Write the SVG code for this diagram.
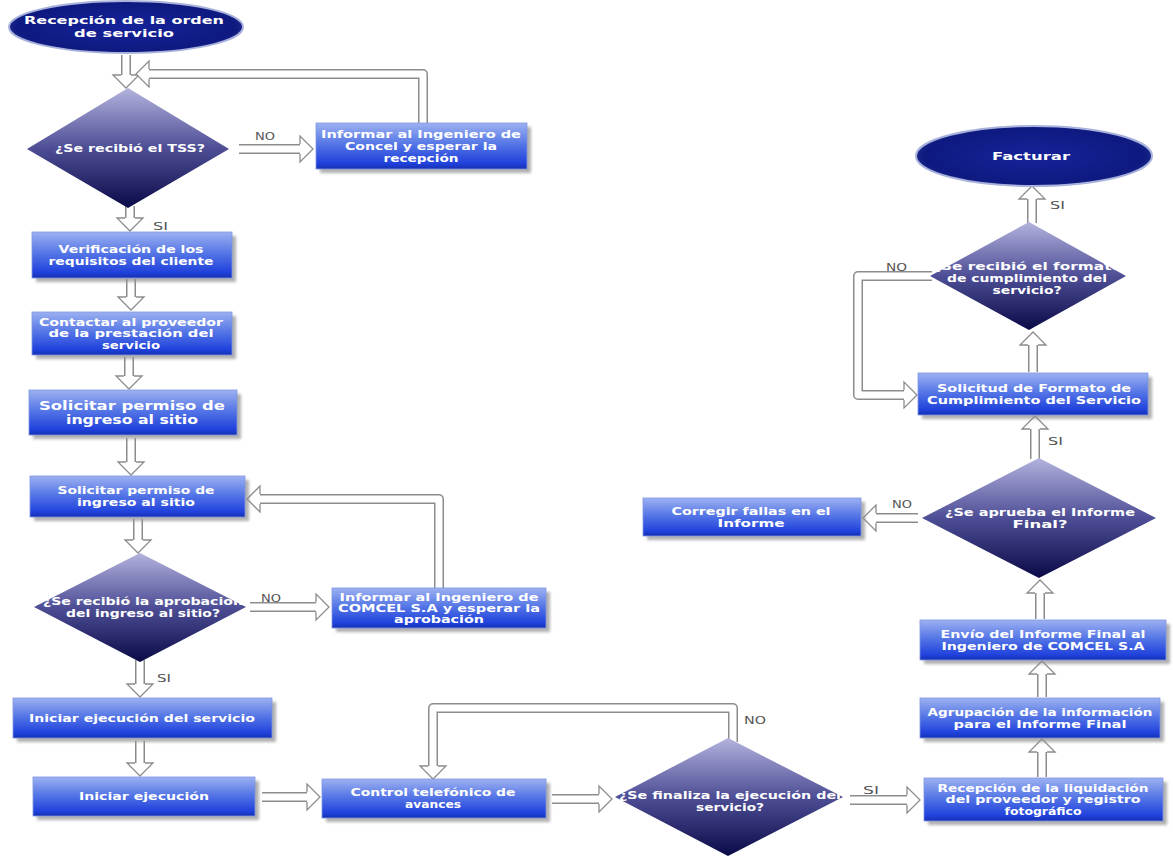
<svg xmlns="http://www.w3.org/2000/svg" xmlns:xlink="http://www.w3.org/1999/xlink" width="1173" height="856" viewBox="0 0 1173 856">
<style>
.t{font-family:"DejaVu Sans",Verdana,sans-serif;font-weight:bold;font-size:10px;fill:#ffffff;text-anchor:middle}
.tb{font-size:12px}
.l{font-family:"DejaVu Sans",Verdana,sans-serif;font-size:10px;fill:#555555}
.so{fill:none;stroke:#8c8c8c;stroke-width:10;stroke-linejoin:round}
.si{fill:none;stroke:#ffffff;stroke-width:7;stroke-linejoin:round}
.hd{fill:#ffffff;stroke:#8c8c8c;stroke-width:1.3;stroke-linejoin:miter}
.box{fill:url(#gBox);stroke:#8096e0;stroke-width:0.8}
.sh{fill:#8f8f8f;opacity:0.7;filter:url(#blur)}
.dia{fill:url(#gDia)}
.ov{fill:url(#gOv);stroke:#a9b2dc;stroke-width:2}
</style>
<defs>
<linearGradient id="gBox" x1="0" y1="0" x2="0" y2="1">
<stop offset="0" stop-color="#9db1f1"/>
<stop offset="0.45" stop-color="#5677e6"/>
<stop offset="0.88" stop-color="#1f41dc"/>
<stop offset="1" stop-color="#1630b0"/>
</linearGradient>
<linearGradient id="gDia" x1="0" y1="0" x2="0" y2="1">
<stop offset="0" stop-color="#b3b3de"/>
<stop offset="0.5" stop-color="#4e4e96"/>
<stop offset="1" stop-color="#0a0a48"/>
</linearGradient>
<radialGradient id="gOv" cx="0.5" cy="0.5" r="0.55">
<stop offset="0" stop-color="#16239a"/>
<stop offset="0.85" stop-color="#0e1a80"/>
<stop offset="1" stop-color="#2a3892"/>
</radialGradient>
<filter id="blur" x="-10%" y="-20%" width="120%" height="140%"><feGaussianBlur stdDeviation="1.5"/></filter>
<polyline id="hd" class="hd" points="-5,-13 -13,-13 0,0 13,-13 5,-13"/>
</defs>

<g id="connectors">
<path class="so" d="M126 55 V76"/><path class="si" d="M126 55 V76"/><use xlink:href="#hd" transform="translate(126,88)"/>
<path class="so" d="M423 123 V74 H148"/><path class="si" d="M423 123 V74 H148"/><use xlink:href="#hd" transform="translate(136,74) rotate(90)"/>
<path class="so" d="M239 149 H301"/><path class="si" d="M239 149 H301"/><use xlink:href="#hd" transform="translate(313,149) rotate(-90)"/>
<path class="so" d="M130 206 V219"/><path class="si" d="M130 206 V219"/><use xlink:href="#hd" transform="translate(130,231)"/>
<path class="so" d="M131 279 V298"/><path class="si" d="M131 279 V298"/><use xlink:href="#hd" transform="translate(131,310)"/>
<path class="so" d="M129 357 V377"/><path class="si" d="M129 357 V377"/><use xlink:href="#hd" transform="translate(129,389)"/>
<path class="so" d="M131 438 V463"/><path class="si" d="M131 438 V463"/><use xlink:href="#hd" transform="translate(131,475)"/>
<path class="so" d="M439 588 V499 H259"/><path class="si" d="M439 588 V499 H259"/><use xlink:href="#hd" transform="translate(247,499) rotate(90)"/>
<path class="so" d="M138 519 V541"/><path class="si" d="M138 519 V541"/><use xlink:href="#hd" transform="translate(138,553)"/>
<path class="so" d="M250 607 H317"/><path class="si" d="M250 607 H317"/><use xlink:href="#hd" transform="translate(329,607) rotate(-90)"/>
<path class="so" d="M140 660 V685"/><path class="si" d="M140 660 V685"/><use xlink:href="#hd" transform="translate(140,697)"/>
<path class="so" d="M140 741 V764"/><path class="si" d="M140 741 V764"/><use xlink:href="#hd" transform="translate(140,776)"/>
<path class="so" d="M262 797 H308"/><path class="si" d="M262 797 H308"/><use xlink:href="#hd" transform="translate(320,797) rotate(-90)"/>
<path class="so" d="M552 799 H600"/><path class="si" d="M552 799 H600"/><use xlink:href="#hd" transform="translate(612,799) rotate(-90)"/>
<path class="so" d="M733 742 V708 H433 V767"/><path class="si" d="M733 742 V708 H433 V767"/><use xlink:href="#hd" transform="translate(433,779)"/>
<path class="so" d="M850 800 H908"/><path class="si" d="M850 800 H908"/><use xlink:href="#hd" transform="translate(920,800) rotate(-90)"/>
<path class="so" d="M1042 777 V751"/><path class="si" d="M1042 777 V751"/><use xlink:href="#hd" transform="translate(1042,739) rotate(180)"/>
<path class="so" d="M1042 697 V673"/><path class="si" d="M1042 697 V673"/><use xlink:href="#hd" transform="translate(1042,661) rotate(180)"/>
<path class="so" d="M1040 619 V592"/><path class="si" d="M1040 619 V592"/><use xlink:href="#hd" transform="translate(1040,580) rotate(180)"/>
<path class="so" d="M918 518 H875"/><path class="si" d="M918 518 H875"/><use xlink:href="#hd" transform="translate(863,518) rotate(90)"/>
<path class="so" d="M1035 459 V428"/><path class="si" d="M1035 459 V428"/><use xlink:href="#hd" transform="translate(1035,416) rotate(180)"/>
<path class="so" d="M1033 372 V344"/><path class="si" d="M1033 372 V344"/><use xlink:href="#hd" transform="translate(1033,332) rotate(180)"/>
<path class="so" d="M932 276 H858 V395 H905"/><path class="si" d="M932 276 H858 V395 H905"/><use xlink:href="#hd" transform="translate(917,395) rotate(-90)"/>
<path class="so" d="M1032 223 V198"/><path class="si" d="M1032 223 V198"/><use xlink:href="#hd" transform="translate(1032,186) rotate(180)"/>
</g>

<g id="labels">
<text class="l" x="255" y="140" textLength="20" lengthAdjust="spacingAndGlyphs">NO</text>
<text class="l" x="153" y="230" textLength="15" lengthAdjust="spacingAndGlyphs">SI</text>
<text class="l" x="261" y="602" textLength="20" lengthAdjust="spacingAndGlyphs">NO</text>
<text class="l" x="157" y="682" textLength="14" lengthAdjust="spacingAndGlyphs">SI</text>
<text class="l" x="744" y="724" textLength="22" lengthAdjust="spacingAndGlyphs">NO</text>
<text class="l" x="863" y="794" textLength="16" lengthAdjust="spacingAndGlyphs">SI</text>
<text class="l" x="892" y="508" textLength="20" lengthAdjust="spacingAndGlyphs">NO</text>
<text class="l" x="1048" y="445" textLength="15" lengthAdjust="spacingAndGlyphs">SI</text>
<text class="l" x="886" y="271" textLength="21" lengthAdjust="spacingAndGlyphs">NO</text>
<text class="l" x="1050" y="209" textLength="15" lengthAdjust="spacingAndGlyphs">SI</text>
</g>

<g id="n-recepcion-orden">
<ellipse class="ov" cx="126" cy="27" rx="117" ry="26"/>
<text class="t" x="124" y="23.5" textLength="200" lengthAdjust="spacingAndGlyphs">Recepción de la orden</text>
<text class="t" x="124" y="36.5" textLength="100" lengthAdjust="spacingAndGlyphs">de servicio</text>
</g>

<g id="n-tss">
<polygon class="dia" points="128,88 229,149 128,208 27,149"/>
<text class="t" x="130" y="152" textLength="150" lengthAdjust="spacingAndGlyphs">¿Se recibió el TSS?</text>
</g>

<g id="n-informar1">
<rect class="sh" x="320" y="127" width="211" height="46"/>
<rect class="box" x="316" y="123" width="211" height="46"/>
<text class="t" x="421" y="137.5" textLength="200" lengthAdjust="spacingAndGlyphs">Informar al Ingeniero de</text>
<text class="t" x="421" y="149.5" textLength="152" lengthAdjust="spacingAndGlyphs">Concel y esperar la</text>
<text class="t" x="421" y="161.5" textLength="75" lengthAdjust="spacingAndGlyphs">recepción</text>
</g>

<g id="n-verificacion">
<rect class="sh" x="36" y="236" width="200" height="46"/>
<rect class="box" x="32" y="232" width="200" height="46"/>
<text class="t" x="131" y="252.5" textLength="145" lengthAdjust="spacingAndGlyphs">Verificación de los</text>
<text class="t" x="131" y="264.5" textLength="165" lengthAdjust="spacingAndGlyphs">requisitos del cliente</text>
</g>

<g id="n-contactar">
<rect class="sh" x="36" y="316" width="200" height="43"/>
<rect class="box" x="32" y="312" width="200" height="43"/>
<text class="t" x="131" y="325.5" textLength="184" lengthAdjust="spacingAndGlyphs">Contactar al proveedor</text>
<text class="t" x="131" y="337" textLength="165" lengthAdjust="spacingAndGlyphs">de la prestación del</text>
<text class="t" x="131" y="348.5" textLength="58" lengthAdjust="spacingAndGlyphs">servicio</text>
</g>

<g id="n-solicitar1">
<rect class="sh" x="33" y="394" width="208" height="45"/>
<rect class="box" x="29" y="390" width="208" height="45"/>
<text class="t tb" x="132" y="409.5" textLength="186" lengthAdjust="spacingAndGlyphs">Solicitar permiso de</text>
<text class="t tb" x="132" y="423.5" textLength="132" lengthAdjust="spacingAndGlyphs">ingreso al sitio</text>
</g>

<g id="n-solicitar2">
<rect class="sh" x="34" y="480" width="215" height="41"/>
<rect class="box" x="30" y="476" width="215" height="41"/>
<text class="t" x="136" y="494" textLength="157" lengthAdjust="spacingAndGlyphs">Solicitar permiso de</text>
<text class="t" x="136" y="506" textLength="118" lengthAdjust="spacingAndGlyphs">ingreso al sitio</text>
</g>

<g id="n-aprobacion">
<polygon class="dia" points="140,553 246,607 140,662 34,607"/>
<text class="t" x="143" y="604.5" textLength="200" lengthAdjust="spacingAndGlyphs">¿Se recibió la aprobación</text>
<text class="t" x="143" y="616.5" textLength="154" lengthAdjust="spacingAndGlyphs">del ingreso al sitio?</text>
</g>

<g id="n-informar2">
<rect class="sh" x="336" y="592" width="214" height="40"/>
<rect class="box" x="332" y="588" width="214" height="40"/>
<text class="t" x="439" y="600.5" textLength="199" lengthAdjust="spacingAndGlyphs">Informar al Ingeniero de</text>
<text class="t" x="439" y="611.5" textLength="202" lengthAdjust="spacingAndGlyphs">COMCEL S.A y esperar la</text>
<text class="t" x="439" y="622.5" textLength="90" lengthAdjust="spacingAndGlyphs">aprobación</text>
</g>

<g id="n-iniciar1">
<rect class="sh" x="17" y="702" width="259" height="40"/>
<rect class="box" x="13" y="698" width="259" height="40"/>
<text class="t" x="142" y="721.5" textLength="226" lengthAdjust="spacingAndGlyphs">Iniciar ejecución del servicio</text>
</g>

<g id="n-iniciar2">
<rect class="sh" x="37" y="781" width="222" height="39"/>
<rect class="box" x="33" y="777" width="222" height="39"/>
<text class="t" x="144" y="800" textLength="130" lengthAdjust="spacingAndGlyphs">Iniciar ejecución</text>
</g>

<g id="n-control">
<rect class="sh" x="326" y="783" width="224" height="39"/>
<rect class="box" x="322" y="779" width="224" height="39"/>
<text class="t" x="433" y="796" textLength="165" lengthAdjust="spacingAndGlyphs">Control telefónico de</text>
<text class="t" x="433" y="808" textLength="56" lengthAdjust="spacingAndGlyphs">avances</text>
</g>

<g id="n-finaliza">
<polygon class="dia" points="728,738 843,797 728,856 615,797"/>
<text class="t" x="730" y="798.5" textLength="222" lengthAdjust="spacingAndGlyphs">¿Se finaliza la ejecución del</text>
<text class="t" x="730" y="810.5" textLength="68" lengthAdjust="spacingAndGlyphs">servicio?</text>
</g>

<g id="n-recepcion-liq">
<rect class="sh" x="928" y="782" width="239" height="43"/>
<rect class="box" x="924" y="778" width="239" height="43"/>
<text class="t" x="1043" y="791.5" textLength="211" lengthAdjust="spacingAndGlyphs">Recepción de la liquidación</text>
<text class="t" x="1043" y="803" textLength="195" lengthAdjust="spacingAndGlyphs">del proveedor y registro</text>
<text class="t" x="1043" y="814.5" textLength="77" lengthAdjust="spacingAndGlyphs">fotográfico</text>
</g>

<g id="n-agrupacion">
<rect class="sh" x="924" y="702" width="240" height="40"/>
<rect class="box" x="920" y="698" width="240" height="40"/>
<text class="t" x="1040" y="715.5" textLength="225" lengthAdjust="spacingAndGlyphs">Agrupación de la información</text>
<text class="t" x="1040" y="727.5" textLength="173" lengthAdjust="spacingAndGlyphs">para el Informe Final</text>
</g>

<g id="n-envio">
<rect class="sh" x="924" y="624" width="246" height="40"/>
<rect class="box" x="920" y="620" width="246" height="40"/>
<text class="t" x="1043" y="637.5" textLength="205" lengthAdjust="spacingAndGlyphs">Envío del Informe Final al</text>
<text class="t" x="1043" y="649.5" textLength="203" lengthAdjust="spacingAndGlyphs">Ingeniero de COMCEL S.A</text>
</g>

<g id="n-aprueba">
<polygon class="dia" points="1039,458 1156,518 1039,578 922,518"/>
<text class="t" x="1040" y="515.5" textLength="190" lengthAdjust="spacingAndGlyphs">¿Se aprueba el Informe</text>
<text class="t" x="1040" y="527.5" textLength="55" lengthAdjust="spacingAndGlyphs">Final?</text>
</g>

<g id="n-corregir">
<rect class="sh" x="647" y="502" width="218" height="38"/>
<rect class="box" x="643" y="498" width="218" height="38"/>
<text class="t" x="751" y="514.5" textLength="159" lengthAdjust="spacingAndGlyphs">Corregir fallas en el</text>
<text class="t" x="751" y="526.5" textLength="67" lengthAdjust="spacingAndGlyphs">Informe</text>
</g>

<g id="n-solicitud">
<rect class="sh" x="922" y="377" width="230" height="42"/>
<rect class="box" x="918" y="373" width="230" height="42"/>
<text class="t" x="1034" y="391.5" textLength="194" lengthAdjust="spacingAndGlyphs">Solicitud de Formato de</text>
<text class="t" x="1034" y="403.5" textLength="214" lengthAdjust="spacingAndGlyphs">Cumplimiento del Servicio</text>
</g>

<g id="n-formato">
<polygon class="dia" points="1029,222 1126,276 1029,330 930,276"/>
<text class="t" x="1027" y="269.5" textLength="190" lengthAdjust="spacingAndGlyphs">¿Se recibió el formato</text>
<text class="t" x="1027" y="281.5" textLength="160" lengthAdjust="spacingAndGlyphs">de cumplimiento del</text>
<text class="t" x="1027" y="293.5" textLength="69" lengthAdjust="spacingAndGlyphs">servicio?</text>
</g>

<g id="n-facturar">
<ellipse class="ov" cx="1034" cy="156" rx="118" ry="30"/>
<text class="t" x="1031" y="159.5" textLength="78" lengthAdjust="spacingAndGlyphs">Facturar</text>
</g>
</svg>
